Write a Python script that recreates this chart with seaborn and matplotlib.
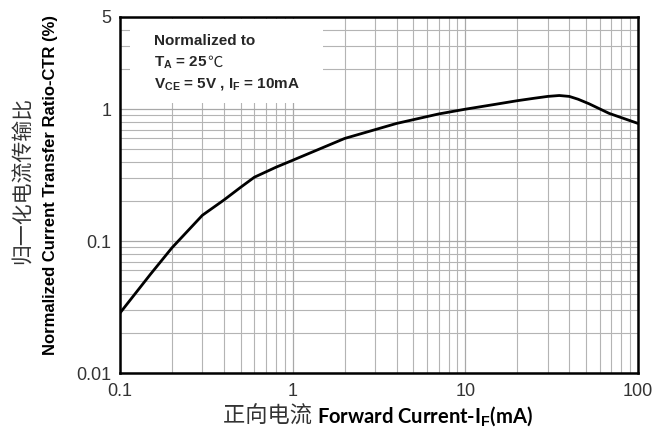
import matplotlib
matplotlib.use("Agg")
import numpy as np
import pandas as pd
import seaborn as sns
import matplotlib.pyplot as plt
from matplotlib.ticker import LogLocator, NullFormatter, FixedLocator, FixedFormatter
from matplotlib.patches import Rectangle

sns.set_style("white")
plt.rcParams['font.family'] = ['Liberation Sans', 'Noto Sans CJK SC', 'DejaVu Sans']
plt.rcParams['mathtext.fontset'] = 'custom'
plt.rcParams['mathtext.rm'] = 'Liberation Sans'
plt.rcParams['mathtext.bf'] = 'Liberation Sans:bold'
plt.rcParams['mathtext.it'] = 'Liberation Sans:italic'

# forward current (mA) vs normalized CTR
forward_current = [0.1, 0.15, 0.2, 0.3, 0.4, 0.5, 0.6, 0.8, 1, 2, 4, 7, 10, 15, 20, 25, 30, 35, 40, 45, 52, 68, 100]
ctr_norm = [0.0285, 0.056, 0.089, 0.157, 0.205, 0.256, 0.305, 0.363, 0.41, 0.60, 0.78, 0.92,
            1.0, 1.09, 1.16, 1.21, 1.25, 1.27, 1.25, 1.19, 1.10, 0.93, 0.78]

x_ticks = [0.1, 1, 10, 100]
x_labels = ["0.1", "1", "10", "100"]
y_ticks = [0.01, 0.1, 1, 5]
y_labels = ["0.01", "0.1", "1", "5"]

df = pd.DataFrame({"If": forward_current, "CTR": ctr_norm})

fig = plt.figure(figsize=(6.69, 4.34), dpi=100)
ax = fig.add_axes([120/669, 1-373/434, (638-120)/669, (373-17)/434])

sns.lineplot(data=df, x="If", y="CTR", ax=ax, color="black", linewidth=2.0, zorder=3)

ax.set_xscale("log")
ax.set_yscale("log")
ax.set_xlim(0.1, 100)
ax.set_ylim(0.01, 5)

ax.xaxis.set_major_locator(FixedLocator(x_ticks))
ax.xaxis.set_major_formatter(FixedFormatter(x_labels))
ax.yaxis.set_major_locator(FixedLocator(y_ticks))
ax.yaxis.set_major_formatter(FixedFormatter(y_labels))
ax.xaxis.set_minor_locator(LogLocator(base=10, subs=np.arange(2, 10), numticks=20))
ax.yaxis.set_minor_locator(LogLocator(base=10, subs=np.arange(2, 10), numticks=20))
ax.xaxis.set_minor_formatter(NullFormatter())
ax.yaxis.set_minor_formatter(NullFormatter())

ax.set_axisbelow(True)
ax.grid(which="major", color="#a8a8a8", linewidth=0.9)
ax.grid(which="minor", color="#b4b4b4", linewidth=0.8)
ax.tick_params(which="both", length=0)
ax.tick_params(axis="x", pad=7, labelsize=13, labelcolor="#333333")
ax.tick_params(axis="y", pad=6, labelsize=13, labelcolor="#333333")
for s in ax.spines.values():
    s.set_visible(True)
    s.set_color("black")
    s.set_linewidth(1.8)

ax.set_xlabel("")
ax.set_ylabel("")

# white box behind the condition text
ax.add_patch(Rectangle((0.019, 0.758), 0.372, 0.237, transform=ax.transAxes,
                       facecolor="white", edgecolor="none", zorder=1))
tx = 0.0656
ax.text(tx, 0.921, "Normalized to", transform=ax.transAxes, fontsize=11,
        fontweight="bold", va="baseline", zorder=4)
ta = ax.text(tx, 0.860, r"T$_\mathbf{A}$ = 25", transform=ax.transAxes, fontsize=11,
             fontweight="bold", va="baseline", zorder=4)
ax.annotate("℃", xy=(1, 0), xycoords=ta, xytext=(0, 0), textcoords="offset points",
            ha="left", va="bottom", fontsize=11, family=["Noto Sans CJK SC"],
            fontweight="light", zorder=4)
ax.text(tx, 0.801, r"V$_\mathbf{CE}$ = 5V , I$_\mathbf{F}$ = 10mA", transform=ax.transAxes,
        fontsize=11, fontweight="bold", va="baseline", zorder=4)

# y label: Chinese line + English bold line
fig.text(23/669, 1-180/434, "归一化电流传输比", rotation=90, ha="center", va="center",
         fontsize=15, family=["Noto Sans CJK SC"], fontweight="light", color="#333333")
fig.text(51/669, 1-355/434, "Normalized Current Transfer Ratio-CTR (%)", rotation=90,
         ha="center", va="bottom", fontsize=12, fontweight="bold", color="black")

# x label
t1 = fig.text(223/669, 1-416/434, "正向电流 ", ha="left", va="center", fontsize=16,
              family=["Noto Sans CJK SC"], fontweight="light", color="#333333")
ax.annotate(r"Forward Current-I$_\mathbf{F}$(mA)", xy=(1, 0.5), xycoords=t1,
            ha="left", va="center", fontsize=14.5, fontweight="bold",
            family=["Lato", "DejaVu Sans"], color="black", annotation_clip=False)

fig.savefig("out.png", dpi=100)
